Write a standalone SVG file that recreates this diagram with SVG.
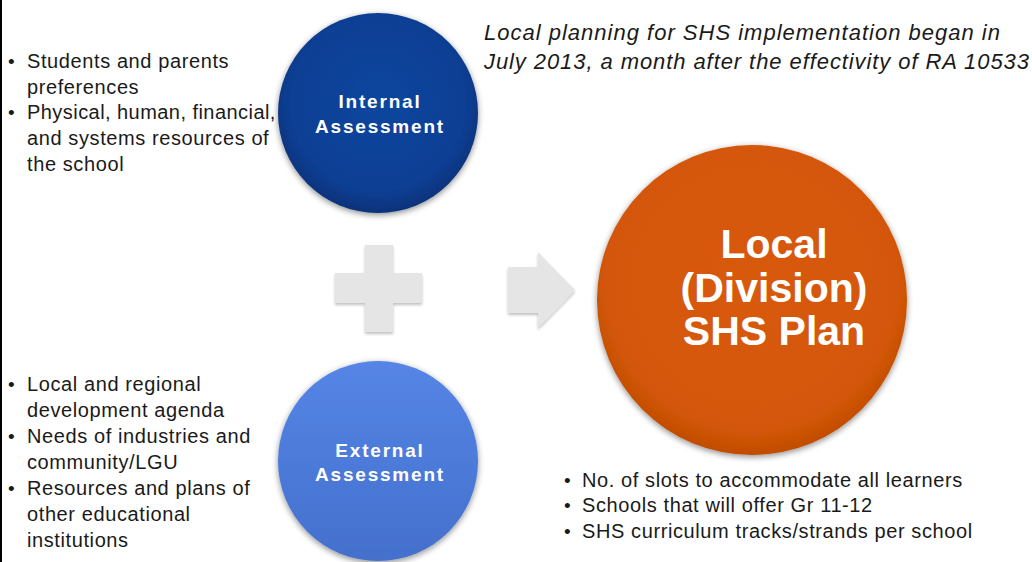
<svg xmlns="http://www.w3.org/2000/svg" width="1032" height="562" viewBox="0 0 1032 562">
<defs>
<radialGradient id="gInt" cx="50%" cy="45%" r="55%">
<stop offset="0" stop-color="#0c469f"/>
<stop offset="0.8" stop-color="#0a3f94"/>
<stop offset="1" stop-color="#07327a"/>
</radialGradient>
<linearGradient id="gExt" x1="0" y1="0" x2="0" y2="1">
<stop offset="0" stop-color="#5585e6"/>
<stop offset="1" stop-color="#4470cc"/>
</linearGradient>
<radialGradient id="gLoc" cx="50%" cy="45%" r="55%">
<stop offset="0" stop-color="#d85a08"/>
<stop offset="0.85" stop-color="#d45707"/>
<stop offset="1" stop-color="#c04c05"/>
</radialGradient>
<filter id="sh" x="-20%" y="-20%" width="140%" height="140%">
<feGaussianBlur in="SourceAlpha" stdDeviation="3"/>
<feOffset dy="2" result="b"/>
<feComponentTransfer><feFuncA type="linear" slope="0.45"/></feComponentTransfer>
<feMerge><feMergeNode/><feMergeNode in="SourceGraphic"/></feMerge>
</filter>
<filter id="sh2" x="-20%" y="-20%" width="140%" height="140%">
<feGaussianBlur in="SourceAlpha" stdDeviation="1.5"/>
<feOffset dy="2"/>
<feComponentTransfer><feFuncA type="linear" slope="0.25"/></feComponentTransfer>
<feMerge><feMergeNode/><feMergeNode in="SourceGraphic"/></feMerge>
</filter>
</defs>
<style>
.t{font-family:"Liberation Sans",Arial,sans-serif;font-size:20px;letter-spacing:0.6px;fill:#1a1a1a}
.b{font-family:"Liberation Sans",Arial,sans-serif;font-size:19px;fill:#1a1a1a}
.it{font-family:"Liberation Sans",Arial,sans-serif;font-size:22px;font-style:italic;fill:#1a1a1a}
.cl{font-family:"Liberation Sans",Arial,sans-serif;font-size:19px;font-weight:bold;fill:#ffffff;text-anchor:middle;letter-spacing:1.8px}
.big{font-family:"Liberation Sans",Arial,sans-serif;font-size:41px;font-weight:bold;fill:#ffffff;text-anchor:middle}
.sym{fill:#e5e5e5}
</style>
<rect width="1032" height="562" fill="#ffffff"/>
<line x1="1" y1="0" x2="1" y2="562" stroke="#000" stroke-width="2"/>

<g id="internal">
<circle cx="378" cy="113" r="100" fill="url(#gInt)" filter="url(#sh)"/>
<text class="cl" x="380" y="108">Internal</text>
<text class="cl" x="380" y="133">Assessment</text>
</g>

<g id="external">
<circle cx="378" cy="461" r="100" fill="url(#gExt)" filter="url(#sh)"/>
<text class="cl" x="380" y="457">External</text>
<text class="cl" x="380" y="481">Assessment</text>
</g>

<g id="plan">
<circle cx="752" cy="300" r="155" fill="url(#gLoc)" filter="url(#sh)"/>
<text class="big" x="774" y="258">Local</text>
<text class="big" x="774" y="302">(Division)</text>
<text class="big" x="774" y="345">SHS Plan</text>
</g>

<g id="connectors">
<path class="sym" filter="url(#sh2)" d="M365,245 H393 V273 H422 V303 H393 V332 H365 V303 H335 V273 H365 Z"/>
<path class="sym" filter="url(#sh2)" d="M508,267 H538 V252 L575,290 L538,328 V313 H508 Z"/>
</g>

<g id="note">
<text class="it" x="484" y="40" textLength="516" lengthAdjust="spacing">Local planning for SHS implementation began in</text>
<text class="it" x="484" y="69" textLength="545" lengthAdjust="spacing">July 2013, a month after the effectivity of RA 10533</text>
</g>

<g id="internal-list">
<text class="b" x="8" y="68">•</text>
<text class="t" x="27" y="68">Students and parents</text>
<text class="t" x="27" y="94">preferences</text>
<text class="b" x="8" y="119">•</text>
<text class="t" x="27" y="119" textLength="249" lengthAdjust="spacing">Physical, human, financial,</text>
<text class="t" x="27" y="145">and systems resources of</text>
<text class="t" x="27" y="171">the school</text>
</g>

<g id="external-list">
<text class="b" x="8" y="391">•</text>
<text class="t" x="27" y="391">Local and regional</text>
<text class="t" x="27" y="417">development agenda</text>
<text class="b" x="8" y="443">•</text>
<text class="t" x="27" y="443">Needs of industries and</text>
<text class="t" x="27" y="469">community/LGU</text>
<text class="b" x="8" y="495">•</text>
<text class="t" x="27" y="495">Resources and plans of</text>
<text class="t" x="27" y="521">other educational</text>
<text class="t" x="27" y="547">institutions</text>
</g>

<g id="plan-list">
<text class="b" x="564" y="487">•</text>
<text class="t" x="582" y="487">No. of slots to accommodate all learners</text>
<text class="b" x="564" y="512">•</text>
<text class="t" x="582" y="512">Schools that will offer Gr 11-12</text>
<text class="b" x="564" y="538">•</text>
<text class="t" x="582" y="538">SHS curriculum tracks/strands per school</text>
</g>
</svg>
